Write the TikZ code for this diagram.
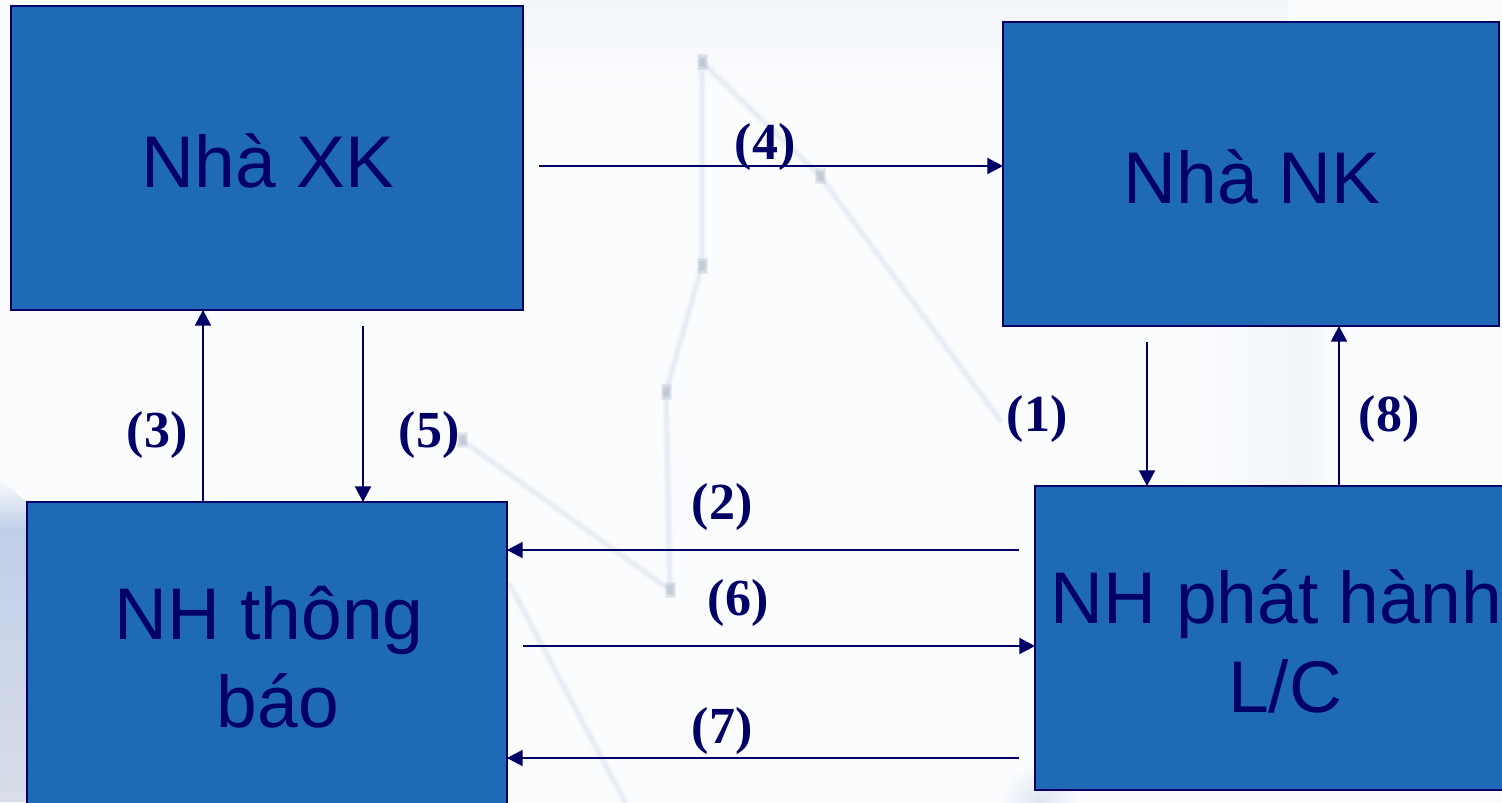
\documentclass[tikz,border=0pt]{standalone}
\usepackage{fontspec}
\setmainfont{Liberation Sans}
\newfontfamily\serifb{Liberation Serif}
\usetikzlibrary{arrows.meta}
\definecolor{navy}{HTML}{000066}
\definecolor{boxblue}{HTML}{1E6AB5}
\definecolor{bgwhite}{HTML}{FBFCFE}
\definecolor{ghost}{HTML}{B9CCE2}
\definecolor{dotgrey}{HTML}{AEB9C6}
\definecolor{cornerblue}{HTML}{BFCFE8}
\definecolor{cornergrey}{HTML}{D9DDE9}
\newcommand{\lowered}[1]{\raisebox{-1.6pt}[\height][\depth]{#1}}
\tikzset{
  x=0.5pt,y=-0.5pt,
  boxnode/.style={draw=navy,line width=1pt,outer sep=0pt,fill=boxblue,text=navy,minimum width=#1,inner sep=0pt,font=\fontsize{36.6}{44.3}\selectfont,align=center},
  arr/.style={draw=navy,line width=0.85pt,-{Triangle[length=7.8pt,width=8pt]}},
  numlabel/.style={text=navy,inner sep=0pt,font=\serifb\bfseries\fontsize{26}{30}\selectfont},
  ghostwide/.style={draw=ghost,opacity=0.065,line width=#1,line cap=round,line join=round},
  dotmark/.style={fill=dotgrey,opacity=0.22,inner sep=0pt,minimum width=#1,minimum height=1.5*#1}
}
\begin{document}
\begin{tikzpicture}
\useasboundingbox (0,0) rectangle (1502,802);
\clip (0,0) rectangle (1502,802);
\fill[bgwhite] (0,0) rectangle (1502,802);
% soft background: top wash, left-bottom corner and faint patches
\shade[top color=ghost!14!bgwhite,bottom color=bgwhite] (520,0) rectangle (1288,90);
\begin{scope}
  \clip (0,478) -- (27,503) -- (27,802) -- (0,802) -- cycle;
  \shade[top color=bgwhite,bottom color=cornerblue] (0,478) rectangle (27,530);
  \shade[top color=cornerblue,bottom color=cornergrey] (0,530) rectangle (27,802);
\end{scope}
\shade[inner color=ghost!45!bgwhite,outer color=bgwhite] (1040,802) circle (40);
\shade[left color=bgwhite,right color=ghost!15!bgwhite] (1190,327) rectangle (1310,485);
\shade[left color=ghost!15!bgwhite,right color=bgwhite] (1310,327) rectangle (1330,485);
\foreach \w in {0.8pt,1.6pt,2.4pt,3.2pt,4.2pt}{
  \draw[ghostwide=\w] (702,62) -- (702,266) -- (666,392) -- (670,590) -- (462,440);
  \draw[ghostwide=\w] (702,62) -- (820,176) -- (1000,420);
  \draw[ghostwide=\w] (510,585) -- (625,802);
}
\foreach \p in {(702,62),(702,266),(666,392),(670,590),(820,176),(462,440)}{
  \foreach \s in {2.5pt,3.5pt,4.5pt,5.5pt}{
    \node[dotmark=\s] at \p {};
  }
}
\node[boxnode=256pt,minimum height=152pt] (xk) at (267,158) {\hspace{1pt}\lowered{Nhà XK}};
\node[boxnode=248pt,minimum height=152pt] (nk) at (1251,174) {\hspace{1pt}\lowered{Nhà NK}};
\node[boxnode=240pt,minimum height=152pt] (tb) at (267,654) {\hspace{2pt}\lowered{NH thông}\\\hspace{11pt}\lowered{báo}};
\node[boxnode=240pt,minimum height=152pt] (ph) at (1275,638) {\hspace{1pt}\lowered{NH phát hành}\\\hspace{10pt}\lowered{L/C}};
\coordinate (s4) at (539,166);
\coordinate (s5) at (363,326);
\coordinate (s1) at (1147,342);
\coordinate (s2) at (1019,550);
\coordinate (s6) at (523,646);
\coordinate (s7) at (1019,758);
\coordinate (s3) at (203,502);
\coordinate (s8) at (1339,486);
\draw[arr] (s4) -- (s4 -| nk.west);
\draw[arr] (s5) -- (s5 |- tb.north);
\draw[arr] (s1) -- (s1 |- ph.north);
\draw[arr] (s2) -- (s2 -| tb.east);
\draw[arr] (s6) -- (s6 -| ph.west);
\draw[arr] (s7) -- (s7 -| tb.east);
\draw[arr] (s3) -- (s3 |- xk.south);
\draw[arr] (s8) -- (s8 |- nk.south);
\node[numlabel] (l1) at (1037,419) {(1)};
\node[numlabel] (l2) at (722,507) {(2)};
\node[numlabel] (l3) at (157,435) {(3)};
\node[numlabel] (l4) at (765,147) {(4)};
\node[numlabel] (l5) at (429,435) {(5)};
\node[numlabel] (l6) at (738,603) {(6)};
\node[numlabel] (l7) at (722,731) {(7)};
\node[numlabel] (l8) at (1389,419) {(8)};
\end{tikzpicture}
\end{document}
